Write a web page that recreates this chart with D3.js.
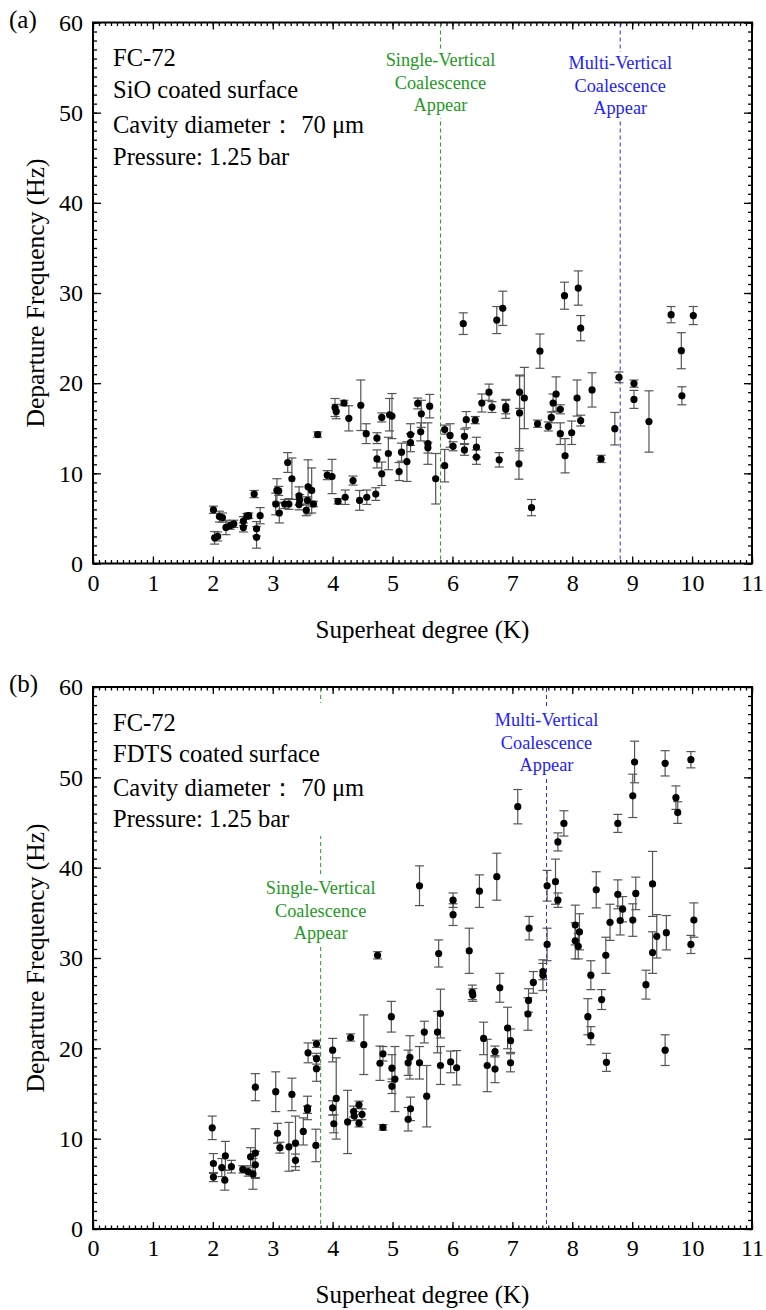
<!DOCTYPE html>
<html><head><meta charset="utf-8">
<script src="https://cdn.jsdelivr.net/npm/d3@7"></script>
<style>body{margin:0;background:#fff}</style>
</head><body><svg id="c" width="766" height="1310"></svg>
<script>
// ---------- data ----------
const xTicks = [0,1,2,3,4,5,6,7,8,9,10,11];
const yTicks = [0,10,20,30,40,50,60];

// Panel (a): SiO coated surface
const aX = [2.01,2.03,2.08,2.11,2.16,2.22,2.29,2.35,2.51,2.51,2.57,2.60,2.69,2.73,2.73,2.79,3.05,3.07,3.10,3.11,3.20,3.25,3.27,3.32,3.44,3.44,3.45,3.56,3.59,3.65,3.58,3.68,3.75,3.91,3.99,4.04,4.06,4.09,4.19,4.21,4.27,4.34,4.45,4.47,4.56,4.57,4.72,4.74,4.74,4.82,4.82,4.93,4.95,4.99,5.11,5.15,5.24,5.30,5.30,5.42,5.47,5.48,5.59,5.59,5.62,5.72,5.87,5.87,5.96,6.01,6.18,6.20,6.20,6.23,6.38,6.40,6.40,6.49,6.61,6.66,6.74,6.78,6.84,6.89,6.89,7.12,7.12,7.20,7.11,7.32,7.46,7.42,7.60,7.65,7.68,7.73,7.80,7.80,7.87,7.88,7.99,8.08,8.10,8.14,8.14,8.33,8.48,8.71,8.78,9.03,9.03,9.28,9.65,9.82,9.83,10.02];
const aY = [5.96,2.85,3.0,5.2,5.1,4.0,4.2,4.4,4.0,4.7,5.25,5.3,7.7,3.85,2.9,5.3,6.6,8.1,8.05,5.6,6.6,11.2,6.6,9.4,7.5,6.55,7.05,5.9,8.5,8.1,7.0,6.6,14.3,9.8,9.65,17.3,16.85,6.9,17.8,7.35,16.1,9.2,7.0,17.55,14.4,7.35,7.7,11.6,13.9,9.95,16.2,12.2,16.5,16.35,10.2,12.35,11.3,13.4,14.3,17.75,14.6,16.6,13.3,12.85,17.45,9.4,14.85,10.85,14.2,13.0,26.6,14.1,12.6,15.95,15.9,12.9,11.8,17.8,19.0,17.35,27.0,11.5,28.3,17.4,17.1,19.0,16.7,18.35,11.05,6.2,23.55,15.5,15.2,16.2,17.8,18.8,17.1,14.4,29.7,11.95,14.5,18.35,30.55,26.1,15.85,19.25,11.6,14.95,20.65,19.95,18.2,15.75,27.6,23.6,18.6,27.5];
const aErr = [0.4,0.7,0.5,0.6,0.5,0.8,0.4,0.4,0.5,0.5,0.3,0.3,0.4,0.8,1.2,0.9,1.2,1.3,0.5,1.1,0.5,1.1,0.6,2.3,1.0,0.6,0.6,0.6,3.0,2.5,0.4,0.3,0.3,0.5,1.9,1.0,0.8,0.3,0.3,0.8,1.4,0.5,1.1,2.8,1.1,0.8,0.7,1.0,0.6,1.3,0.5,1.8,1.8,2.5,1.0,1.0,2.2,1.0,1.2,0.6,1.0,1.5,2.3,0.6,1.3,2.8,0.5,1.8,1.3,0.5,1.2,0.8,0.6,0.9,0.4,1.1,0.8,1.0,0.9,0.6,1.5,0.8,1.9,0.8,1.0,1.8,4.2,3.4,1.7,0.9,1.9,0.4,0.5,0.6,1.0,1.9,0.5,1.2,1.5,1.9,1.3,2.0,1.9,1.4,0.6,1.9,0.4,1.8,0.6,0.4,1.0,3.4,0.9,2.0,1.0,1.0];

// Panel (b): FDTS coated surface
const bX = [1.99,2.01,2.01,2.15,2.21,2.20,2.31,2.50,2.59,2.63,2.67,2.71,2.71,2.71,3.05,3.08,3.12,3.27,3.32,3.38,3.38,3.51,3.58,3.58,3.59,3.72,3.73,3.73,3.73,4.00,4.00,4.02,4.06,4.25,4.30,4.35,4.36,4.44,4.44,4.49,4.52,4.75,4.79,4.84,4.84,4.98,4.99,4.99,5.04,5.26,5.29,5.26,5.30,5.45,5.45,5.53,5.57,5.75,5.77,5.80,5.80,5.97,6.01,6.01,6.07,6.28,6.33,6.34,6.45,6.52,6.58,6.71,6.71,6.74,6.79,6.92,6.97,6.97,7.09,7.28,7.27,7.26,7.35,7.51,7.51,7.58,7.58,7.72,7.76,7.76,7.86,8.05,8.05,8.10,8.12,8.26,8.31,8.31,8.40,8.49,8.56,8.57,8.63,8.76,8.76,8.80,8.84,9.01,9.01,9.04,9.06,9.23,9.34,9.34,9.41,9.55,9.55,9.57,9.73,9.76,9.98,9.98,10.03];
const bY = [11.2,7.25,5.75,6.8,8.1,5.4,6.9,6.6,6.35,8.0,6.1,7.1,8.4,15.7,15.2,10.6,9.0,9.1,14.9,7.6,9.5,10.8,13.4,13.2,19.5,9.25,20.5,18.85,17.75,19.8,13.4,11.65,14.45,11.85,21.2,13.0,12.5,13.75,11.7,12.7,20.4,30.3,18.35,19.4,11.25,23.5,17.8,15.8,16.6,18.4,19.0,12.15,13.3,38.0,18.4,21.8,14.7,21.8,30.5,23.85,18.1,18.5,36.4,34.8,17.85,30.8,26.2,25.9,37.4,21.1,18.1,19.65,17.7,39.0,26.7,22.25,20.85,18.4,46.75,33.3,25.3,23.8,27.3,28.5,28.1,38.0,31.5,38.45,42.85,36.4,44.9,33.65,31.9,31.3,32.9,23.5,28.1,21.4,37.55,25.4,30.3,18.45,33.95,44.9,37.05,34.15,35.4,34.2,47.95,51.7,37.15,27.05,38.2,30.6,32.4,51.55,19.8,32.8,47.75,46.1,51.95,31.5,34.2];
const bErr = [1.3,1.1,0.5,1.0,1.6,1.1,0.7,0.4,0.5,1.0,1.7,1.5,2.7,1.5,2.2,1.1,0.6,2.7,1.8,0.7,3.0,1.5,1.3,0.4,1.1,1.8,0.4,0.6,1.4,1.3,0.8,1.0,4.5,3.5,0.4,0.6,0.5,0.4,0.4,0.6,3.3,0.4,1.9,0.8,0.3,1.7,1.5,0.8,3.6,1.4,2.4,1.3,1.3,2.2,1.8,1.2,3.4,2.3,1.5,2.7,2.1,1.2,0.8,1.2,1.9,2.5,0.8,0.7,1.8,1.8,2.9,0.6,1.5,2.6,1.6,2.3,1.3,1.0,1.9,1.3,1.3,1.8,1.2,0.9,1.7,1.7,1.8,2.5,1.0,0.8,1.4,2.2,2.0,1.4,2.0,2.0,1.6,1.0,2.0,1.1,2.0,1.0,2.0,1.0,1.6,1.6,1.4,1.8,2.4,2.3,1.8,1.6,3.6,2.3,2.4,1.4,1.7,1.9,1.3,1.2,0.9,1.0,1.9];

const aInfo = ["FC-72","SiO coated surface","Cavity diameter\uff1a 70 \u03bcm","Pressure: 1.25 bar"];
const bInfo = ["FC-72","FDTS coated surface","Cavity diameter\uff1a 70 \u03bcm","Pressure: 1.25 bar"];
const singleLabel = ["Single-Vertical","Coalescence","Appear"];
const multiLabel = ["Multi-Vertical","Coalescence","Appear"];
const aSingle = 5.8, aMulti = 8.8;
const bSingle = 3.8, bMulti = 7.57;

// ---------- drawing ----------
const FONT = "'Liberation Serif','Times New Roman',serif";
const svg = d3.select("#c");
const L = 93, R = 752;

function panel(o){
  const g = svg.append("g");
  const x = d3.scaleLinear().domain([0,11]).range([L,R]);
  const y = d3.scaleLinear().domain([0,60]).range([o.bottom,o.top]);
  const minorX = d3.range(0,11.001,0.1).map(v=>+v.toFixed(1));
  const minorY = d3.range(0,60.001,1);

  function ax(gen, tr, vals, size, fmt){
    const a = g.append("g").attr("transform",tr)
      .call(gen.tickValues(vals).tickSize(size).tickPadding(10).tickFormat(fmt));
    a.select(".domain").remove();
    a.selectAll("line").attr("stroke","#000").attr("stroke-width",1.3);
    a.selectAll("text").attr("font-family",FONT).attr("font-size",24).attr("fill","#000");
    return a;
  }
  ax(d3.axisBottom(x), `translate(0,${o.bottom})`, minorX, -3.5, "");
  ax(d3.axisBottom(x), `translate(0,${o.bottom})`, xTicks, -7, d3.format("d"));
  ax(d3.axisTop(x), `translate(0,${o.top})`, minorX, -3.5, "");
  ax(d3.axisTop(x), `translate(0,${o.top})`, xTicks, -7, "");
  ax(d3.axisLeft(y), `translate(${L},0)`, minorY, -4, "");
  ax(d3.axisLeft(y), `translate(${L},0)`, yTicks, -8, d3.format("d"));
  ax(d3.axisRight(y), `translate(${R},0)`, minorY, -4, "");
  ax(d3.axisRight(y), `translate(${R},0)`, yTicks, -8, "");

  [[o.single,"#2a9a2a"],[o.multi,"#2a2aff"]].forEach(([v,c])=>{
    g.append("line").attr("x1",x(v)).attr("x2",x(v))
      .attr("y1",o.top+1).attr("y2",o.bottom-1)
      .attr("stroke",c).attr("stroke-width",1).attr("stroke-dasharray","4,3");
  });

  const ib = g.append("g");
  ib.append("rect").attr("x",105).attr("y",o.infoY-28).attr("width",275).attr("height",o.infoGap*3+40).attr("fill","#fff");
  o.info.forEach((t,i)=>{
    ib.append("text").attr("x",113).attr("y",o.infoY+i*o.infoGap+(i>=2?3:0))
      .attr("font-family",FONT).attr("font-size",24.5).attr("fill","#000").text(t);
  });

  function lab(v, lines, base, color){
    const cx = x(v);
    g.append("rect").attr("x",cx-60).attr("y",base-17).attr("width",120).attr("height",22.5*2+24).attr("fill","#fff");
    lines.forEach((t,i)=>{
      g.append("text").attr("x",cx).attr("y",base+i*22.5).attr("text-anchor","middle")
        .attr("font-family",FONT).attr("font-size",18.3).attr("fill",color).text(t);
    });
  }
  lab(o.single, singleLabel, o.singleY, "#229922");
  lab(o.multi, multiLabel, o.multiY, "#2222ff");

  const pts = o.xs.map((v,i)=>({x:v,y:o.ys[i],e:o.es[i]}));
  const eb = g.append("g").attr("stroke","#555").attr("stroke-width",1.2);
  pts.forEach(d=>{
    const px = x(d.x), y1 = y(d.y+d.e), y2 = y(d.y-d.e);
    eb.append("line").attr("x1",px).attr("x2",px).attr("y1",y1).attr("y2",y2);
    eb.append("line").attr("x1",px-4.5).attr("x2",px+4.5).attr("y1",y1).attr("y2",y1);
    eb.append("line").attr("x1",px-4.5).attr("x2",px+4.5).attr("y1",y2).attr("y2",y2);
  });
  g.append("g").selectAll("circle").data(pts).join("circle")
    .attr("cx",d=>x(d.x)).attr("cy",d=>y(d.y)).attr("r",3.6).attr("fill","#000");

  g.append("rect").attr("x",L).attr("y",o.top).attr("width",R-L).attr("height",o.bottom-o.top)
    .attr("fill","none").attr("stroke","#000").attr("stroke-width",2);

  g.append("text").attr("x",(L+R)/2).attr("y",o.bottom+74).attr("text-anchor","middle")
    .attr("font-family",FONT).attr("font-size",25).text("Superheat degree (K)");
  g.append("text").attr("transform",`translate(35,${(o.top+o.bottom)/2}) rotate(-90)`)
    .attr("text-anchor","middle").attr("dy","0.35em")
    .attr("font-family",FONT).attr("font-size",25.5).text("Departure Frequency (Hz)");
  g.append("text").attr("x",9).attr("y",o.top+5).attr("font-family",FONT).attr("font-size",25).text(o.tag);
}

panel({top:22.5, bottom:563.5, xs:aX, ys:aY, es:aErr, info:aInfo, infoY:66, infoGap:32,
  single:aSingle, multi:aMulti, singleY:66, multiY:69, tag:"(a)"});
panel({top:687, bottom:1229, xs:bX, ys:bY, es:bErr, info:bInfo, infoY:731, infoGap:31,
  single:bSingle, multi:bMulti, singleY:894, multiY:726, tag:"(b)"});
</script>
</body></html>
